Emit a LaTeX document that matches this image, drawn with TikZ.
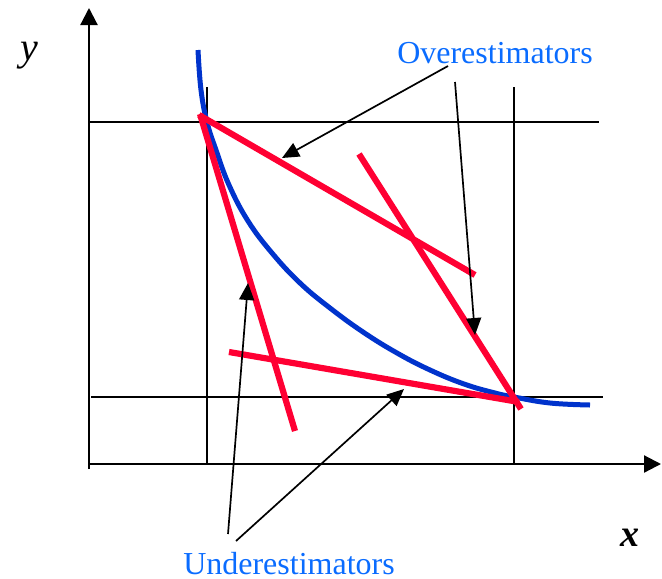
\documentclass[tikz,border=0pt]{standalone}
\usepackage{fontspec}
\setmainfont{Liberation Serif}
\usetikzlibrary{arrows.meta}
\definecolor{curveblue}{HTML}{0033CC}
\definecolor{estred}{HTML}{FF0033}
\definecolor{labelblue}{HTML}{0A6CFF}
\begin{document}
\begin{tikzpicture}[x=0.5pt, y=-0.5pt,
  axis/.style={line width=1.1pt, -{Triangle[length=8.5pt,width=8.5pt]}},
  bound/.style={line width=0.9pt},
  estline/.style={estred, line width=3.1pt},
  pointer/.style={line width=0.85pt, -{Triangle[length=8.5pt,width=7.5pt]}},
  estlabel/.style={text=labelblue, font=\fontsize{16}{19}\selectfont, inner sep=0pt, anchor=base}]

% --- Frame (fixes the page size) ---
\useasboundingbox (0,0) rectangle (662,578);

% --- Axes ---
\coordinate (origin) at (89,464);
\draw[axis] (89,469) -- (89,8);
\draw[axis] (origin) -- (661,464);
\node[font=\itshape\fontsize{20}{24}\selectfont, inner sep=0pt, anchor=base] (ylab) at (29,60) {y};
\node[font=\bfseries\itshape\fontsize{19}{23}\selectfont, inner sep=0pt, anchor=base] (xlab) at (630,546) {x};

% --- Bounds of the box ---
\draw[bound] (207,87) -- (207,464);
\draw[bound] (514,87) -- (514,464);
\draw[bound] (89,122) -- (599,122);
\draw[bound] (91,397) -- (603,397);

% --- Convex function ---
\draw[curveblue, line width=2.5pt] plot[smooth, tension=0.7] coordinates {
  (198,50) (201,90) (207,122) (216,150) (229,185) (248,221) (272,253)
  (300,283) (330,308) (363,332) (397,353) (430,370) (464,384) (495,393)
  (514,397) (550,403) (590,405)};

% --- Estimator lines ---
\coordinate (oA1) at (199,115); \coordinate (oA2) at (475,275);
\coordinate (oB1) at (359,154); \coordinate (oB2) at (521,409);
\coordinate (uC1) at (200,114); \coordinate (uC2) at (295,431);
\coordinate (uD1) at (229,352); \coordinate (uD2) at (519,402);
\draw[estline] (oA1) -- (oA2);
\draw[estline] (oB1) -- (oB2);
\draw[estline] (uC1) -- (uC2);
\draw[estline] (uD1) -- (uD2);

% --- Labels and pointers ---
\node[estlabel] (over) at (495,63) {Overestimators};
\node[estlabel] (under) at (289,574) {Underestimators};

\coordinate (overFromA) at (448,66);  \coordinate (overTipA) at (282,158);
\coordinate (overFromB) at (455,82);  \coordinate (overTipB) at (475,335);
\coordinate (underFromC) at (228,534); \coordinate (underTipC) at (248,283);
\coordinate (underFromD) at (236,541); \coordinate (underTipD) at (404,389);
\draw[pointer] (overFromA) -- (overTipA);
\draw[pointer] (overFromB) -- (overTipB);
\draw[pointer] (underFromC) -- (underTipC);
\draw[pointer] (underFromD) -- (underTipD);

\end{tikzpicture}
\end{document}
